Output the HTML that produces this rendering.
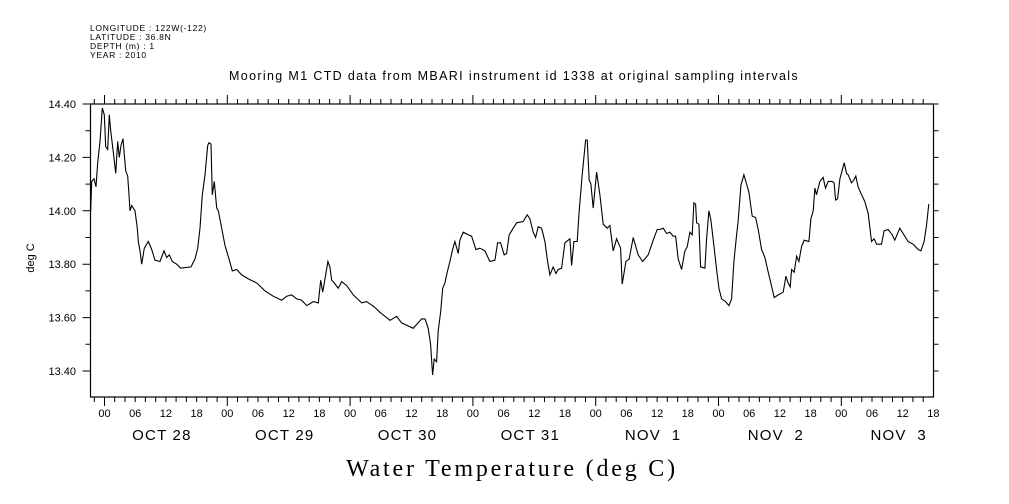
<!DOCTYPE html>
<html><head><meta charset="utf-8"><style>
html,body{margin:0;padding:0;background:#fff;}
svg{display:block;font-family:"Liberation Sans",sans-serif;}
</style></head><body>
<svg id="chart" width="1009" height="504" viewBox="0 0 1009 504" xmlns="http://www.w3.org/2000/svg">
<rect x="0" y="0" width="1009" height="504" fill="#fff"/>
<g font-size="8.5" fill="#000" letter-spacing="0.7">
<text x="90" y="31">LONGITUDE : 122W(-122)</text>
<text x="90" y="40">LATITUDE : 36.8N</text>
<text x="90" y="49">DEPTH (m) : 1</text>
<text x="90" y="58">YEAR : 2010</text>
</g>
<text x="514" y="80" font-size="12.5" letter-spacing="1.35" text-anchor="middle">Mooring M1 CTD data from MBARI instrument id 1338 at original sampling intervals</text>
<text x="0" y="0" font-size="11" text-anchor="middle" transform="translate(34,258) rotate(-90)">deg C</text>
<text x="512" y="476" font-size="24" letter-spacing="2.8" font-family="Liberation Serif,serif" text-anchor="middle">Water Temperature (deg C)</text>
<g id="axes"></g>
<g id="series"></g>
</svg>
<script>
const hours=[-2.70,-2.50,-2.05,-1.66,-1.33,-0.88,-0.43,-0.04,0.23,0.63,0.94,1.21,1.72,2.19,2.58,2.89,3.22,3.62,3.87,4.14,4.53,4.79,4.98,5.31,5.96,6.41,6.60,6.94,7.27,7.78,8.56,9.22,9.87,10.84,11.63,12.15,12.66,13.25,14.11,14.89,16.90,17.68,18.21,18.66,19.11,19.64,20.17,20.42,20.81,21.06,21.45,21.92,22.24,22.90,23.55,24.33,24.97,25.83,26.81,28.10,29.74,31.36,32.98,34.63,35.60,36.58,37.56,38.53,39.51,40.80,41.78,42.25,42.64,43.09,43.67,44.06,44.40,44.90,45.68,46.35,47.33,48.62,50.26,51.23,52.72,
53.83,55.79,57.10,58.07,60.34,61.98,62.63,63.27,63.74,64.13,64.44,64.91,65.22,65.69,66.09,66.53,66.98,67.51,68.04,68.49,69.13,69.46,70.11,71.09,71.75,72.59,73.37,74.35,75.33,76.30,76.83,77.42,78.12,78.59,79.10,79.88,80.54,81.84,82.62,83.14,83.79,84.26,84.77,85.43,86.07,86.60,87.05,87.70,88.22,88.67,89.34,89.98,90.96,91.29,91.74,92.39,92.78,93.36,94.03,94.34,94.73,95.06,95.51,96.18,96.82,97.47,98.25,98.77,99.42,100.08,100.87,101.18,101.90,102.55,103.33,104.31,105.16,106.26,107.24,108.02,108.54,
109.19,109.85,110.50,111.14,111.61,112.12,112.78,113.43,113.88,114.41,114.86,115.19,115.52,115.72,116.17,116.50,117.34,117.67,118.12,118.51,119.15,119.68,120.07,120.60,121.38,122.03,122.56,123.01,123.53,123.84,124.37,124.96,125.49,125.94,126.58,127.25,127.75,128.42,129.06,129.59,130.23,130.88,131.66,132.64,133.17,133.61,134.01,134.28,134.79,135.26,135.71,136.23,136.74,137.66,138.05,138.50,138.84,139.16,139.81,140.45,140.92,141.43,142.21,142.60,142.88,143.27,143.72,144.56,145.03,145.34,146.00,146.45,146.84,147.29,147.96,148.60,149.25,149.91,150.42,150.89,151.86,152.37,153.15,153.94,154.46,155.44,156.42,157.06,158.04,159.02,159.55,160.19,160.66,161.11];
const temps=[14.00,14.11,14.12,14.09,14.18,14.26,14.385,14.36,14.24,14.23,14.36,14.30,14.22,14.14,14.26,14.20,14.245,14.27,14.21,14.15,14.13,14.06,14.00,14.02,14.00,13.935,13.885,13.85,13.80,13.86,13.885,13.855,13.815,13.81,13.85,13.825,13.835,13.81,13.80,13.785,13.79,13.82,13.86,13.935,14.06,14.135,14.245,14.255,14.25,14.06,14.11,14.01,14.00,13.935,13.87,13.82,13.775,13.78,13.76,13.745,13.73,13.70,13.68,13.665,13.68,13.685,13.67,13.665,13.645,13.66,13.655,13.74,13.695,13.745,13.81,13.79,13.74,13.73,13.71,13.735,13.72,13.685,13.655,13.66,13.64,
13.62,13.59,13.605,13.58,13.56,13.595,13.595,13.56,13.50,13.385,13.445,13.435,13.55,13.62,13.71,13.73,13.77,13.81,13.855,13.885,13.84,13.89,13.92,13.91,13.905,13.855,13.86,13.85,13.81,13.815,13.88,13.88,13.835,13.84,13.91,13.935,13.955,13.96,13.985,13.97,13.92,13.90,13.94,13.935,13.885,13.81,13.76,13.79,13.765,13.78,13.785,13.88,13.895,13.795,13.885,13.885,14.00,14.135,14.265,14.265,14.115,14.10,14.01,14.145,14.06,13.95,13.935,13.945,13.85,13.895,13.86,13.725,13.81,13.82,13.90,13.835,13.81,13.835,13.89,13.93,13.93,
13.935,13.915,13.92,13.905,13.905,13.82,13.78,13.85,13.865,13.92,13.91,14.03,14.025,13.955,13.95,13.79,13.785,13.895,14.00,13.965,13.86,13.77,13.71,13.67,13.66,13.645,13.67,13.81,13.91,13.96,14.095,14.135,14.10,14.07,13.98,13.975,13.93,13.855,13.825,13.78,13.73,13.675,13.685,13.695,13.755,13.73,13.715,13.78,13.77,13.83,13.81,13.865,13.89,13.885,13.97,14.00,14.085,14.06,14.11,14.125,14.085,14.11,14.11,14.105,14.04,14.045,14.12,14.18,14.14,14.135,14.105,14.115,14.13,14.09,14.06,14.035,13.99,13.885,13.895,13.875,13.875,13.925,13.93,13.91,13.89,13.935,13.905,13.885,13.875,13.855,13.85,13.885,13.945,14.025];
const yTickLabels=["13.40","13.60","13.80","14.00","14.20","14.40"];
const hourLabels=["00","06","12","18"];
const dayLabels=["OCT 28","OCT 29","OCT 30","OCT 31","NOV  1","NOV  2","NOV  3"];

const L=90.5,R=933.5,T=104,B=397;
const H0=104.5,PXH=122.8/24;
function xs(h){return H0+h*PXH;}
function ys(v){return T+(14.40-v)*267;}
const NS="http://www.w3.org/2000/svg";
function mk(tag,attrs,parent){const e=document.createElementNS(NS,tag);for(const k in attrs)e.setAttribute(k,attrs[k]);parent.appendChild(e);return e;}
const axes=document.getElementById('axes');
const frame=mk('rect',{x:L,y:T,width:R-L,height:B-T,fill:'none',stroke:'#000','stroke-width':1.2},axes);


let d='';
for(let h=-2;h<=160;h+=2){
  const x=xs(h).toFixed(1);const len=(h%24===0)?9:5;
  d+=`M${x} ${T}V${T-len}M${x} ${B}V${B+len}`;
}
for(let i=0;i<=10;i++){
  const v=13.4+i*0.1;const y=ys(v).toFixed(1);const len=(i%2===0)?8:5;
  d+=`M${L} ${y}H${L-len}M${R} ${y}H${R+5}`;
}
const ticks=mk('path',{d:d,stroke:'#000','stroke-width':1,fill:'none'},axes);


yTickLabels.forEach(s=>{
  const t=mk('text',{x:76,y:ys(parseFloat(s))+4,'font-size':11,'text-anchor':'end'},axes);
  t.textContent=s;
  
  
});
for(let day=0;day<7;day++){
  for(let k=0;k<4;k++){
    const h=day*24+k*6;if(h>162)continue;
    const t=mk('text',{x:xs(h),y:417,'font-size':11,'text-anchor':'middle'},axes);
    t.textContent=hourLabels[k];
    
    
  }
  const t=mk('text',{x:xs(day*24+12)-4,y:440,'font-size':15,'letter-spacing':1.2,'text-anchor':'middle'},axes);
  t.style.whiteSpace='pre';
  t.textContent=dayLabels[day];
  
  
}
const pts=hours.map((h,i)=>xs(h).toFixed(1)+','+ys(temps[i]).toFixed(1)).join(' ');
const line=mk('polyline',{points:pts,fill:'none',stroke:'#000','stroke-width':1.1},document.getElementById('series'));


</script>
</body></html>
